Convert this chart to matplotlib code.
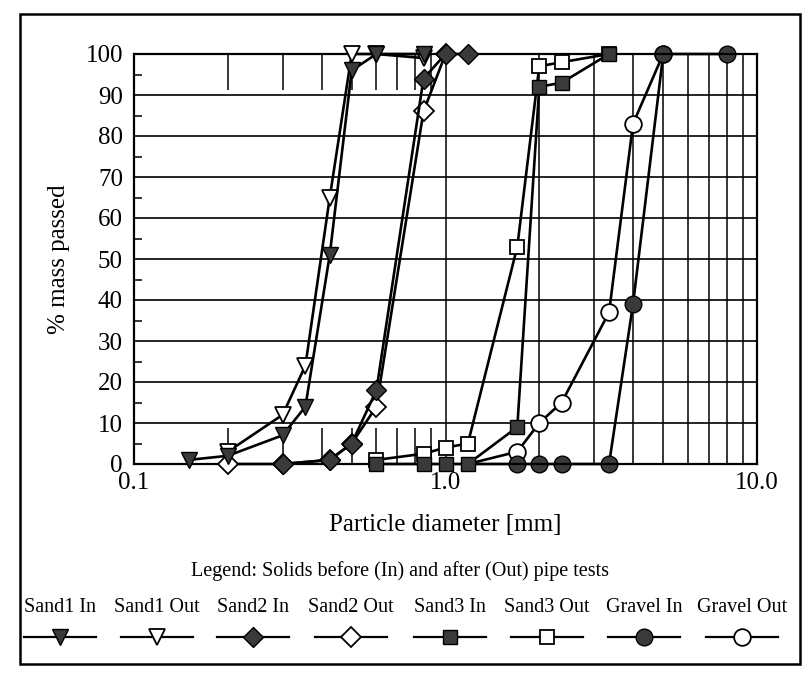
import matplotlib
matplotlib.use("Agg")
import matplotlib.pyplot as plt
from matplotlib.lines import Line2D
from matplotlib.patches import Rectangle
from matplotlib.ticker import FixedLocator, FixedFormatter, NullFormatter

plt.rcParams['font.family'] = ['Liberation Serif', 'DejaVu Serif']

# Sieve analysis: particle diameter [mm] and % mass passed
sand1_in_d = [0.15, 0.2, 0.3, 0.355, 0.425, 0.5, 0.6, 0.85]
sand1_in_p = [1, 2, 7, 14, 51, 96, 100, 100]
sand1_out_d = [0.2, 0.3, 0.355, 0.425, 0.5, 0.6, 0.85]
sand1_out_p = [3, 12, 24, 65, 100, 100, 99]
sand2_in_d = [0.3, 0.425, 0.5, 0.6, 0.85, 1.0, 1.18]
sand2_in_p = [0, 1, 5, 18, 94, 100, 100]
sand2_out_d = [0.2, 0.3, 0.425, 0.5, 0.6, 0.85, 1.0]
sand2_out_p = [0, 0, 1, 5, 14, 86, 100]
sand3_in_d = [0.6, 0.85, 1.0, 1.18, 1.7, 2.0, 2.36, 3.35]
sand3_in_p = [0, 0, 0, 0, 9, 92, 93, 100]
sand3_out_d = [0.6, 0.85, 1.0, 1.18, 1.7, 2.0, 2.36, 3.35]
sand3_out_p = [1, 2.5, 4, 5, 53, 97, 98, 100]
gravel_in_d = [1.18, 1.7, 2.0, 2.36, 3.35, 4.0, 5.0, 8.0]
gravel_in_p = [0, 0, 0, 0, 0, 39, 100, 100]
gravel_out_d = [1.18, 1.7, 2.0, 2.36, 3.35, 4.0, 5.0]
gravel_out_p = [0, 3, 10, 15, 37, 83, 100]

series_names = ["Sand1 In", "Sand1 Out", "Sand2 In", "Sand2 Out",
                "Sand3 In", "Sand3 Out", "Gravel In", "Gravel Out"]
x_ticks = [0.1, 1.0, 10.0]
x_tick_labels = ["0.1", "1.0", "10.0"]
y_ticks = list(range(0, 101, 10))

W, H = 809, 673
fig = plt.figure(figsize=(W / 100, H / 100), dpi=100)


def fx(px):
    return px / W


def fy(py):
    return 1 - py / H


# plot area in pixels
left, right, top, bottom = 134, 757, 54, 464
ax = fig.add_axes([fx(left), fy(bottom), fx(right - left), fy(top) - fy(bottom)])

DARK = "#3a3a3a"
LW = 1.9

styles = {
    "Sand1 In":   dict(marker="v", ms=12, mfc=DARK, mec="black", mew=1.0, z=3.5, every=None),
    "Sand1 Out":  dict(marker="v", ms=12, mfc="white", mec="black", mew=1.3, z=3.0, every=None),
    "Sand2 In":   dict(marker="D", ms=10.5, mfc=DARK, mec="black", mew=1.0, z=3.5, every=None),
    "Sand2 Out":  dict(marker="D", ms=10.5, mfc="white", mec="black", mew=1.3, z=3.0, every=None),
    "Sand3 In":   dict(marker="s", ms=10, mfc=DARK, mec="black", mew=1.0, z=3.5, every=None),
    "Sand3 Out":  dict(marker="s", ms=10, mfc="white", mec="black", mew=1.3, z=3.0, every=None),
    # the gravel curves start on the 1.18 mm sieve, underneath the Sand3 markers
    "Gravel In":  dict(marker="o", ms=12, mfc=DARK, mec="black", mew=1.0, z=2.5, every=slice(1, None)),
    "Gravel Out": dict(marker="o", ms=12, mfc="white", mec="black", mew=1.3, z=2.2, every=slice(1, None)),
}

data = {
    "Sand1 In": (sand1_in_d, sand1_in_p),
    "Sand1 Out": (sand1_out_d, sand1_out_p),
    "Sand2 In": (sand2_in_d, sand2_in_p),
    "Sand2 Out": (sand2_out_d, sand2_out_p),
    "Sand3 In": (sand3_in_d, sand3_in_p),
    "Sand3 Out": (sand3_out_d, sand3_out_p),
    "Gravel In": (gravel_in_d, gravel_in_p),
    "Gravel Out": (gravel_out_d, gravel_out_p),
}

for name in series_names:
    st = styles[name]
    d, p = data[name]
    ax.plot(d, p, color="black", lw=LW, marker=st["marker"], ms=st["ms"],
            mfc=st["mfc"], mec=st["mec"], mew=st["mew"], zorder=st["z"],
            markevery=st["every"], clip_on=False)

ax.set_xscale("log")
ax.set_xlim(0.1, 10)
ax.set_ylim(0, 100)

# axis ticks and grid
ax.xaxis.set_major_locator(FixedLocator(x_ticks))
ax.xaxis.set_major_formatter(FixedFormatter(x_tick_labels))
ax.xaxis.set_minor_locator(FixedLocator([0.2, 0.3, 0.4, 0.5, 0.6, 0.7, 0.8, 0.9]))
ax.xaxis.set_minor_formatter(NullFormatter())
ax.tick_params(axis="x", which="major", length=0, pad=6, labelsize=18)
ax.tick_params(axis="x", which="minor", direction="in", length=26,
               width=1.1, top=True, bottom=True, color="black")

ax.yaxis.set_major_locator(FixedLocator(y_ticks))
ax.yaxis.set_minor_locator(FixedLocator(list(range(5, 100, 10))))
ax.yaxis.set_minor_formatter(NullFormatter())
ax.tick_params(axis="y", which="major", length=0, pad=8, labelsize=18)
ax.tick_params(axis="y", which="minor", direction="in", length=5.5, width=1.1)

for yv in y_ticks[1:-1]:
    ax.axhline(yv, color="black", lw=1.2, zorder=1)
for xv in [1, 2, 3, 4, 5, 6, 7, 8, 9]:
    ax.axvline(xv, color="black", lw=1.1, zorder=1)

for sp in ax.spines.values():
    sp.set_linewidth(1.6)

ax.set_xlabel("Particle diameter [mm]", fontsize=18, labelpad=14)
ax.set_ylabel("% mass passed", fontsize=18, labelpad=11)

# legend block below the chart
fig.text(fx(400), fy(571), "Legend: Solids before (In) and after (Out) pipe tests",
         ha="center", va="center", fontsize=14.5)
leg_centers = [59.5, 157, 253, 351, 449.5, 546.5, 644, 742]
half = 36
for name, cx in zip(series_names, leg_centers):
    st = styles[name]
    fig.text(fx(cx), fy(607), name, ha="center", va="center", fontsize=14.5)
    fig.add_artist(Line2D([fx(cx - half), fx(cx + half)], [fy(637), fy(637)],
                          transform=fig.transFigure, color="black", lw=1.6))
    fig.add_artist(Line2D([fx(cx)], [fy(637)], transform=fig.transFigure,
                          linestyle="none", marker=st["marker"], ms=st["ms"],
                          mfc=st["mfc"], mec=st["mec"], mew=st["mew"]))

# outer frame
fig.add_artist(Rectangle((fx(20), fy(664)), fx(780), fy(14) - fy(664),
                         transform=fig.transFigure, fill=False,
                         edgecolor="black", lw=1.8))

fig.savefig("out.png", dpi=100)
